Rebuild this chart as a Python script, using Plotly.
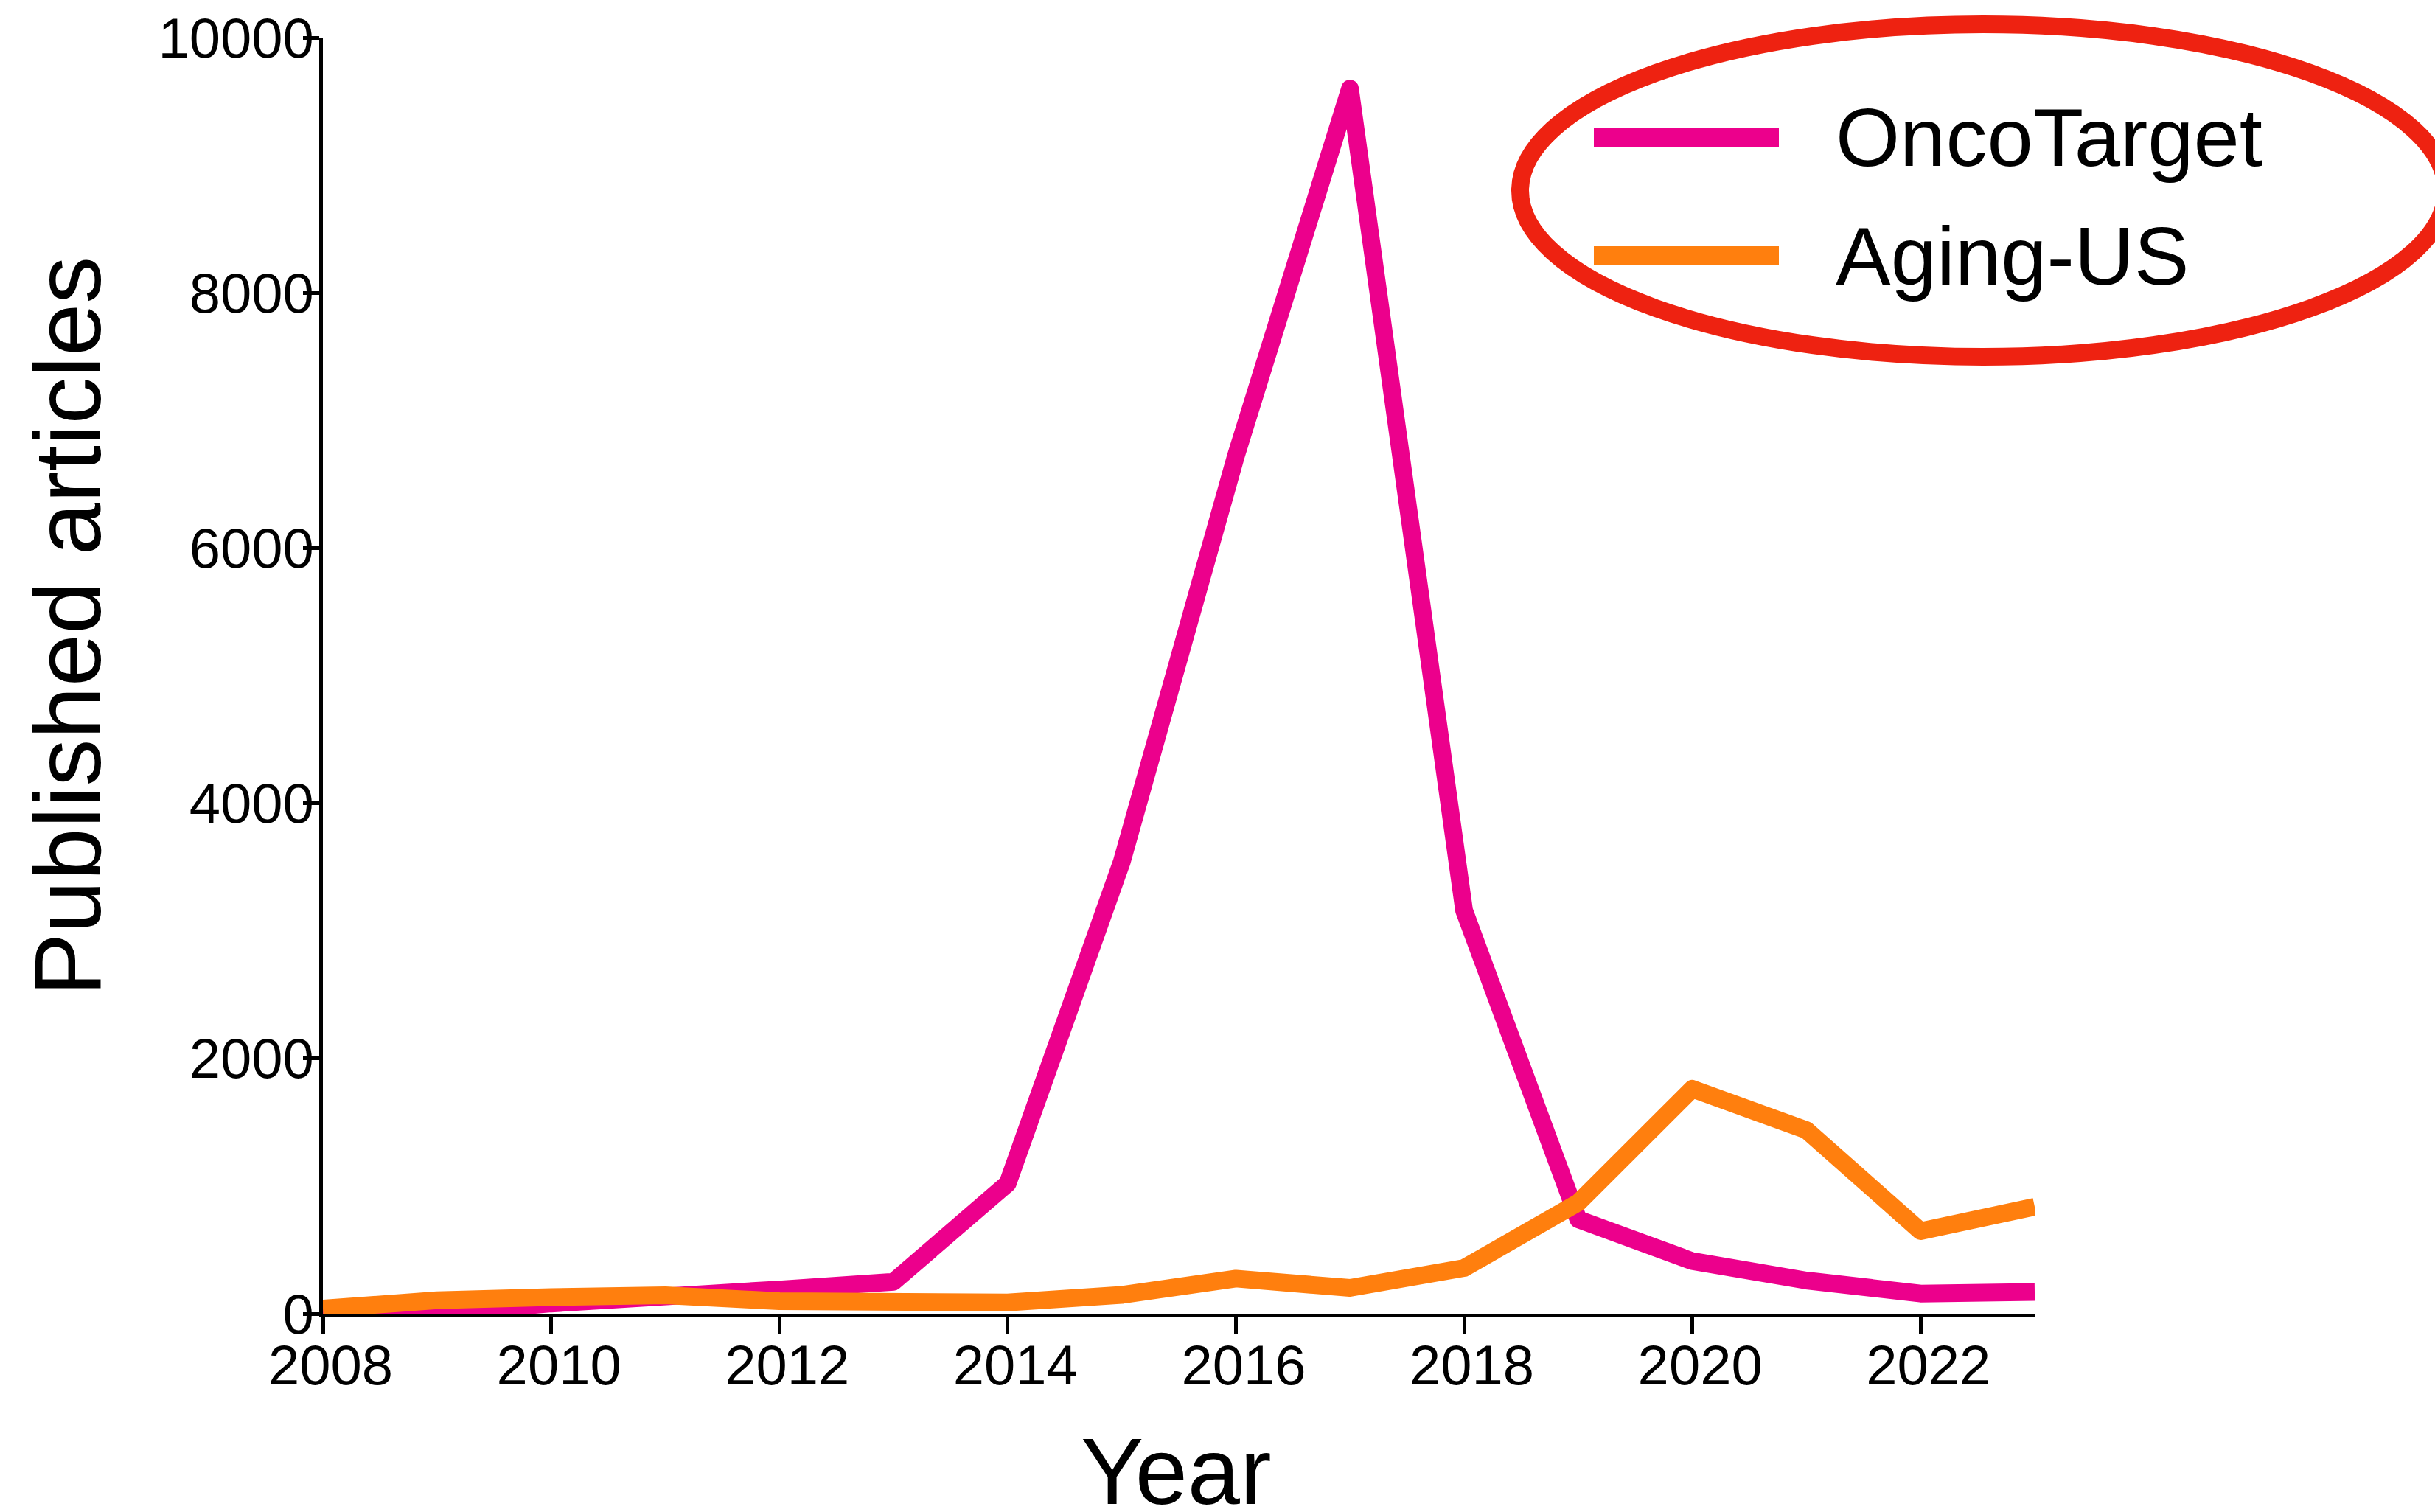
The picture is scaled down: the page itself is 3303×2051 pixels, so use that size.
import plotly.graph_objects as go

years = list(range(2008, 2024))
oncotarget = [0, 5, 80, 152, 190, 250, 1020, 3540, 6720, 9600, 3160, 740, 412, 260, 158, 170]
aging_us = [40, 105, 130, 145, 98, 93, 88, 147, 275, 202, 358, 870, 1762, 1438, 647, 838]
series_names = ["OncoTarget", "Aging-US"]
series_colors = ["#EC008C", "#FF7F0E"]
x_ticks = [2008, 2010, 2012, 2014, 2016, 2018, 2020, 2022]
y_ticks = [0, 2000, 4000, 6000, 8000, 10000]

FONT = "Arial, Liberation Sans, sans-serif"
W, H = 3303, 2051
L, R, T, B = 438, 543, 51, 269
PW, PH = W - L - R, H - T - B

def px(xp):
    return (xp - L) / PW

def py(yp):
    return (H - B - yp) / PH

fig = go.Figure()
for name, vals, col in zip(series_names, [oncotarget, aging_us], series_colors):
    fig.add_trace(go.Scatter(x=years, y=vals, mode="lines", name=name,
                             line=dict(color=col, width=24), showlegend=False))

axis_common = dict(showline=True, linecolor="black", linewidth=5, ticks="outside",
                   ticklen=22, tickwidth=5, tickcolor="black", showgrid=False,
                   zeroline=False, tickfont=dict(family=FONT, size=76, color="black"))

fig.update_xaxes(range=[2008, 2023], tickvals=x_ticks,
                 ticktext=["\u00a0" + str(v) for v in x_ticks],
                 ticklabelstandoff=-22, **axis_common)
fig.update_yaxes(range=[0, 10000], tickvals=y_ticks, ticktext=[str(v) for v in y_ticks],
                 ticklabelstandoff=-30, **axis_common)

shapes = [
    dict(type="circle", xref="paper", yref="paper", x0=px(2062), x1=px(3318),
         y0=py(484), y1=py(33), line=dict(color="#EE2211", width=24)),
]
annotations = [
    dict(text="Year", xref="paper", yref="paper", x=px(1595), y=py(1995),
         xanchor="center", yanchor="middle", showarrow=False,
         font=dict(family=FONT, size=128, color="black")),
    dict(text="Published articles", xref="paper", yref="paper", x=px(92), y=py(850),
         xanchor="center", yanchor="middle", showarrow=False, textangle=-90,
         font=dict(family=FONT, size=128, color="black")),
]
for i, (name, col, yc) in enumerate(zip(series_names, series_colors, [187, 347])):
    shapes.append(dict(type="line", xref="paper", yref="paper", x0=px(2162), x1=px(2413),
                       y0=py(yc), y1=py(yc), line=dict(color=col, width=26)))
    annotations.append(dict(text=name, xref="paper", yref="paper", x=px(2488), y=py(yc),
                            xanchor="left", yanchor="middle", showarrow=False,
                            font=dict(family=FONT, size=112, color="black")))

fig.update_layout(width=W, height=H, margin=dict(l=L, r=R, t=T, b=B, autoexpand=False),
                  paper_bgcolor="white", plot_bgcolor="white",
                  shapes=shapes, annotations=annotations, showlegend=False)

post = """
document.body.style.margin = '0';
document.body.style.overflow = 'hidden';
var st = document.createElement('style');
st.innerHTML = '.scatterlayer path.js-line{stroke-linejoin:round !important;}';
document.head.appendChild(st);
"""
fig.write_html("out.html", post_script=post, config={"displayModeBar": False})
